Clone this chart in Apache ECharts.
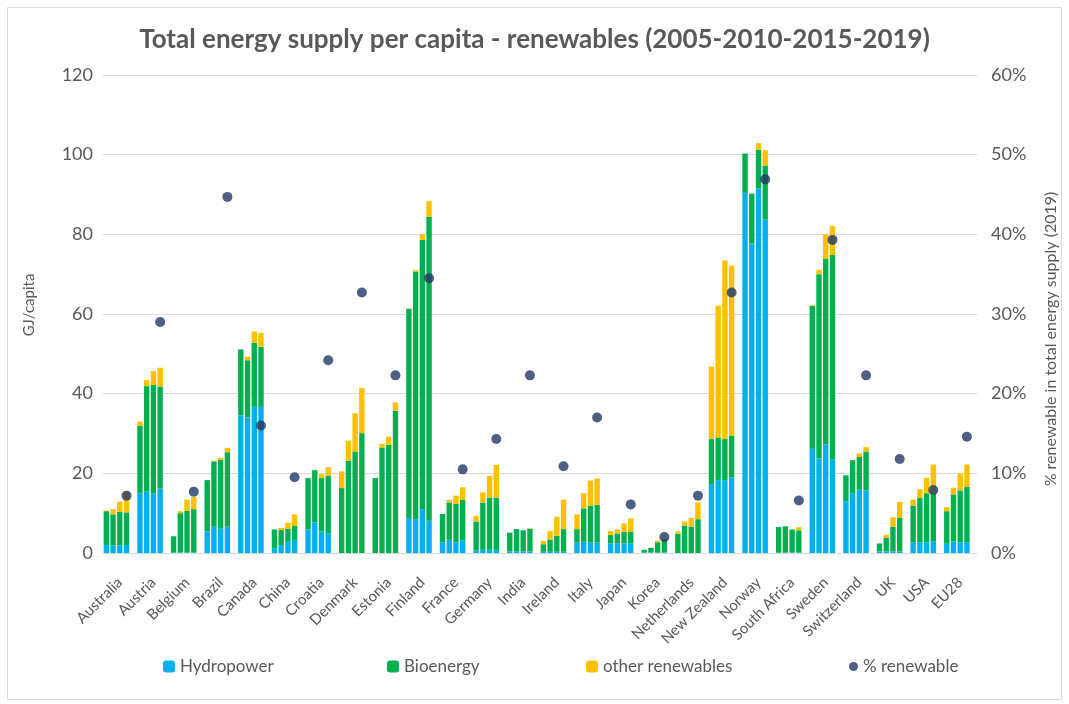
<!DOCTYPE html>
<html>
<head>
<meta charset="utf-8">
<script src="https://cdn.jsdelivr.net/npm/echarts@6/dist/echarts.min.js"></script>
<style>
html,body{margin:0;padding:0;background:#fff;}
#chart{width:1069px;height:704px;}
</style>
</head>
<body>
<div id="chart"></div>
<script>
const countries = ['Australia','Austria','Belgium','Brazil','Canada','China','Croatia','Denmark','Estonia','Finland','France','Germany','India','Ireland','Italy','Japan','Korea','Netherlands','New Zealand','Norway','South Africa','Sweden','Switzerland','UK','USA','EU28'];
const years = ['2005','2010','2015','2019'];

const hydro2005 = [2.0,15.0,0.1,5.4,34.6,1.2,5.9,0,0,8.8,2.7,0.7,0.4,0.3,2.6,2.4,0.1,0,17.3,90.4,0.1,26.2,13.0,0.4,2.7,2.3];
const hydro2010 = [1.9,15.4,0.1,6.6,34.1,2.0,7.7,0,0,8.5,3.3,0.8,0.4,0.3,2.8,2.4,0.1,0,18.3,77.7,0.1,23.7,14.9,0.4,2.7,2.9];
const hydro2015 = [1.9,15.0,0.1,6.1,36.7,2.8,5.4,0,0,11.0,2.7,0.8,0.4,0.3,2.6,2.4,0.1,0,18.3,91.5,0.1,27.3,15.9,0.4,2.7,2.7];
const hydro2019 = [2.0,16.2,0.1,6.6,36.7,3.3,5.0,0,0,8.1,3.1,0.8,0.4,0.3,2.6,2.4,0.1,0,19.0,83.7,0.1,23.4,15.7,0.4,2.9,2.7];

const bio2005 = [8.5,16.9,4.1,12.9,16.5,4.7,12.9,16.3,18.8,52.5,7.1,7.2,4.7,1.9,3.4,2.1,0.7,4.8,11.3,9.9,6.4,35.8,6.5,2.0,9.2,8.2];
const bio2010 = [7.8,26.5,9.9,16.4,14.3,3.8,13.1,23.2,26.5,62.2,9.4,11.9,5.6,3.1,8.4,2.5,1.2,6.9,10.7,12.5,6.6,46.3,8.4,3.4,11.1,11.8];
const bio2015 = [8.4,27.2,10.5,17.3,16.1,3.3,13.4,25.5,27.2,67.6,9.6,13.1,5.3,4.0,9.2,2.9,2.6,6.6,10.3,9.8,5.8,46.5,8.2,6.2,12.3,13.0];
const bio2019 = [8.2,25.6,10.9,18.7,15.1,3.5,14.4,30.1,35.7,76.3,10.3,13.1,5.7,5.7,9.5,3.0,3.2,8.5,10.5,13.6,5.6,51.4,9.8,8.4,12.0,13.9];

const other2005 = [0.2,1.1,0,0,0,0,0,4.2,0,0.1,0,1.4,0,0.8,3.7,1.0,0,0.6,18.2,0,0,0.2,0,0,1.5,1.0];
const other2010 = [1.3,1.5,0.5,0.2,0.9,0.5,0.1,5.0,0.9,0.3,0.6,2.5,0,2.1,3.8,1.0,0,1.0,33.1,0,0,1.1,0,0.8,2.2,1.7];
const other2015 = [2.6,3.5,2.8,0.5,2.8,1.5,1.0,9.6,2.0,1.4,2.1,5.5,0,4.8,6.4,2.1,0.4,2.2,44.8,1.6,0,6.2,0.9,2.4,3.9,4.2];
const other2019 = [5.3,4.7,3.1,1.1,3.5,2.9,2.1,11.3,2.1,4.0,3.1,8.2,0.1,7.4,6.6,3.3,0.3,4.2,42.6,3.8,0.8,7.3,1.1,4.0,7.3,5.6];

const pctRenewable2019 = [7.2,29.0,7.7,44.7,16.0,9.5,24.2,32.7,22.3,34.5,10.5,14.3,22.3,10.9,17.0,6.1,2.0,7.2,32.7,46.9,6.6,39.3,22.3,11.8,7.9,14.6];

const leftTicks = {min:0, max:120, interval:20};
const rightTicks = {min:0, max:60, interval:10};

// Build slot axis: 4 year slots + 1 spacer per country
const slots = [];
countries.forEach(c => { years.forEach(y => slots.push(c + ' ' + y)); slots.push(c + ' '); });
function toSlots(arrs){
  const out = [];
  countries.forEach((c,i) => { arrs.forEach(a => out.push(a[i])); out.push(null); });
  return out;
}
const hydroSlots = toSlots([hydro2005,hydro2010,hydro2015,hydro2019]);
const bioSlots = toSlots([bio2005,bio2010,bio2015,bio2019]);
const otherSlots = toSlots([other2005,other2010,other2015,other2019]);
const pctPoints = pctRenewable2019.map((v,i) => [i*5+3, v]);

const txt = '#595959';
const font = 'Lato, "Open Sans", sans-serif';

const chart = echarts.init(document.getElementById('chart'), null, {renderer:'canvas'});
chart.setOption({
  animation:false,
  backgroundColor:'#fff',
  textStyle:{fontFamily:font},
  graphic:[{type:'rect', shape:{x:7.5,y:7.5,width:1054,height:692}, style:{fill:'none', stroke:'#d9d9d9', lineWidth:1}, silent:true}],
  title:{
    text:'Total energy supply per capita - renewables (2005-2010-2015-2019)',
    left:'center', top:22,
    textStyle:{fontFamily:font, fontWeight:'bold', fontSize:26, color:txt}
  },
  legend:[
    {data:['Hydropower'], left:158, top:653, itemWidth:12, itemHeight:12, textStyle:{fontSize:17,color:txt,fontFamily:font}},
    {data:['Bioenergy'], left:382, top:653, itemWidth:12, itemHeight:12, textStyle:{fontSize:17,color:txt,fontFamily:font}},
    {data:['other renewables'], left:581, top:653, itemWidth:12, itemHeight:12, textStyle:{fontSize:17,color:txt,fontFamily:font}},
    {data:[{name:'% renewable', icon:'circle'}], left:844, top:653, itemWidth:9, itemHeight:9, textStyle:{fontSize:17,color:txt,fontFamily:font}}
  ],
  grid:{left:103, right:92, top:75, bottom:151, containLabel:false},
  xAxis:[
    {type:'category', data:slots, position:'bottom',
     axisLine:{show:true, lineStyle:{color:'#d9d9d9', width:1}},
     axisTick:{show:false}, axisLabel:{show:false}, splitLine:{show:false}},
    {type:'category', data:countries, position:'bottom',
     axisLine:{show:false}, axisTick:{show:false},
     axisLabel:{rotate:45, color:txt, fontSize:15, fontFamily:font, margin:27, interval:0}}
  ],
  yAxis:[
    {type:'value', min:leftTicks.min, max:leftTicks.max, interval:leftTicks.interval,
     name:'GJ/capita', nameLocation:'middle', nameRotate:90, nameGap:66,
     nameTextStyle:{color:txt, fontSize:15, fontFamily:font, padding:[0,0,0,18]},
     axisLine:{show:false}, axisTick:{show:false},
     axisLabel:{color:txt, fontSize:18, margin:10, fontFamily:font},
     splitLine:{lineStyle:{color:'#d9d9d9', width:1}}},
    {type:'value', min:rightTicks.min, max:rightTicks.max, interval:rightTicks.interval, position:'right',
     name:'% renewable in total energy supply (2019)', nameLocation:'middle', nameRotate:90, nameGap:66,
     nameTextStyle:{color:txt, fontSize:16, fontFamily:font, padding:[0,50,0,0]},
     axisLine:{show:false}, axisTick:{show:false},
     axisLabel:{color:txt, fontSize:18, margin:14, formatter:'{value}%', fontFamily:font},
     splitLine:{show:false}}
  ],
  series:[
    {name:'Hydropower', type:'bar', stack:'tot', xAxisIndex:0, yAxisIndex:0, data:hydroSlots,
     itemStyle:{color:'#00b0f0'}, barCategoryGap:'20%'},
    {name:'Bioenergy', type:'bar', stack:'tot', xAxisIndex:0, yAxisIndex:0, data:bioSlots,
     itemStyle:{color:'#00b050'}, barCategoryGap:'20%'},
    {name:'other renewables', type:'bar', stack:'tot', xAxisIndex:0, yAxisIndex:0, data:otherSlots,
     itemStyle:{color:'#ffc000'}, barCategoryGap:'20%'},
    {name:'% renewable', type:'scatter', xAxisIndex:0, yAxisIndex:1, data:pctPoints,
     symbol:'circle', symbolSize:10, itemStyle:{color:'#203864'}, z:5}
  ]
});
</script>
</body>
</html>
